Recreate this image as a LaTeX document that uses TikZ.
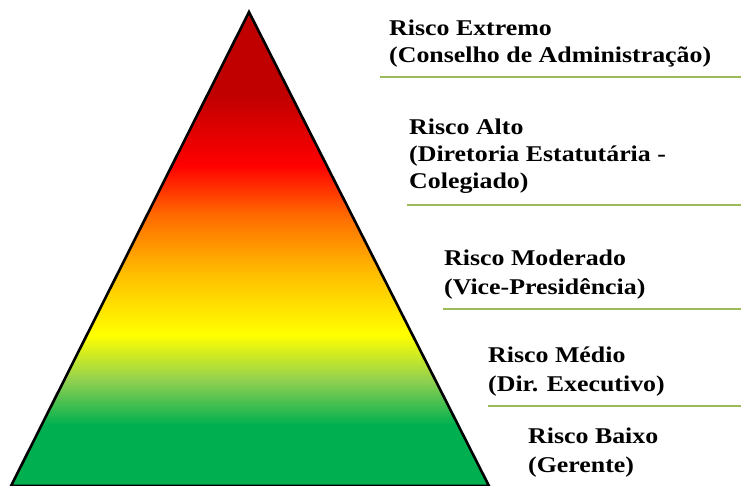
\documentclass[tikz,border=0pt]{standalone}
\usepackage{fontspec}
\setmainfont{Liberation Serif}[FakeStretch=1.15]
\begin{document}
\begin{tikzpicture}[x=1pt,y=-1pt,
  label/.style={anchor=base west,inner sep=0pt,font=\fontsize{22.5}{27}\selectfont\bfseries,text=black},
  rule/.style={draw=ruleGreen,line width=2pt},
  band/.style={shading=axis,shading angle=0}]
\definecolor{ruleGreen}{HTML}{9BBB59}
\definecolor{darkRed}{HTML}{C00000}
\definecolor{pureRed}{HTML}{FF0000}
\definecolor{orangeA}{HTML}{FF6A00}
\definecolor{goldA}{HTML}{FFC000}
\definecolor{yellowA}{HTML}{FFFF00}
\definecolor{limeA}{HTML}{92D050}
\definecolor{greenA}{HTML}{00B050}
\useasboundingbox (0,0) rectangle (741,485);
\fill[white] (0,0) rectangle (741,485);

% pyramid corners
\coordinate (apex) at (249,12);
\coordinate (bl) at (11,486);
\coordinate (br) at (489,486);

% colour bands inside the pyramid
\begin{scope}
  \clip (apex) -- (br) -- (bl) -- cycle;
  \fill[darkRed] (0,0) rectangle (500,95);
  \shade[top color=darkRed,bottom color=pureRed] (0,95) rectangle (500,165);
  \shade[top color=pureRed,bottom color=orangeA] (0,165) rectangle (500,215);
  \shade[top color=orangeA,bottom color=goldA] (0,215) rectangle (500,275);
  \shade[top color=goldA,bottom color=yellowA] (0,275) rectangle (500,335);
  \shade[top color=yellowA,bottom color=limeA] (0,335) rectangle (500,380);
  \shade[top color=limeA,bottom color=greenA] (0,380) rectangle (500,425);
  \fill[greenA] (0,425) rectangle (500,490);
\end{scope}
\draw[line width=2.6pt,line join=miter] (apex) -- (br) -- (bl) -- cycle;

% level labels
\node[label] (l1a) at (389,35) {Risco Extremo};
\node[label] (l1b) at (389,62) {(Conselho de Administração)};
\node[label] (l2a) at (409,134) {Risco Alto};
\node[label] (l2b) at (409,161) {(Diretoria Estatutária -};
\node[label] (l2c) at (409,188) {Colegiado)};
\node[label] (l3a) at (444,265) {Risco Moderado};
\node[label] (l3b) at (444,294) {(Vice-Presidência)};
\node[label] (l4a) at (488,362) {Risco Médio};
\node[label] (l4b) at (488,391) {(Dir. Executivo)};
\node[label] (l5a) at (528,443) {Risco Baixo};
\node[label] (l5b) at (528,472) {(Gerente)};

% separator rules
\coordinate (r1) at (380,77);
\coordinate (r2) at (407,205);
\coordinate (r3) at (443,309);
\coordinate (r4) at (488,406);
\foreach \r in {r1,r2,r3,r4} \draw[rule] (\r) -- (\r -| 741,0);
\end{tikzpicture}
\end{document}
